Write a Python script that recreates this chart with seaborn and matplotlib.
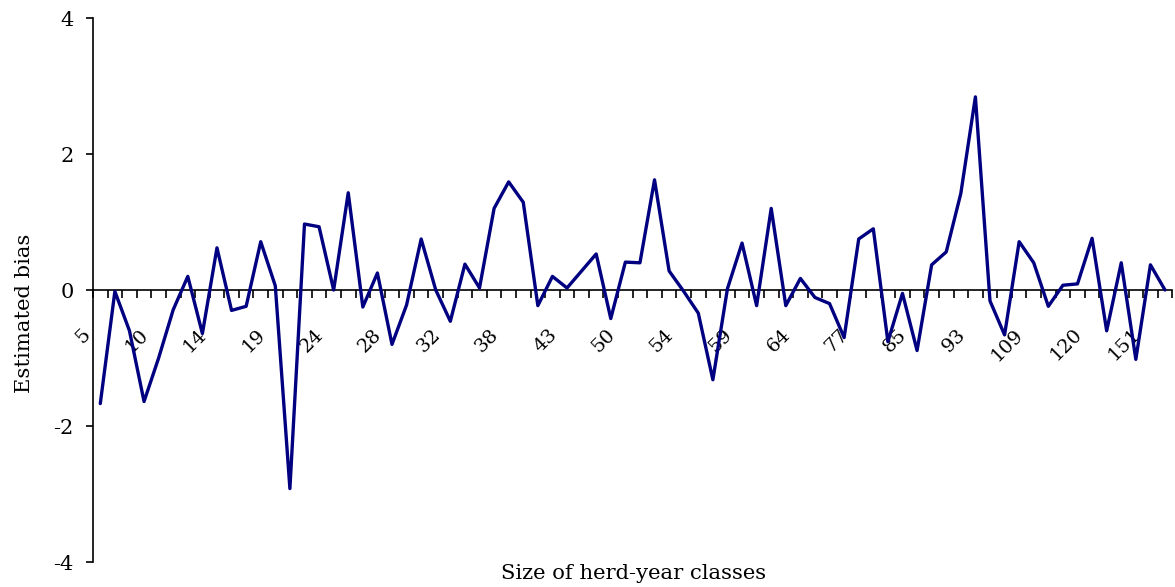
import numpy as np
import pandas as pd
import matplotlib
matplotlib.use("Agg")
import matplotlib.pyplot as plt
import matplotlib.transforms as mtransforms
from matplotlib.ticker import FixedLocator
import seaborn as sns

# ---- data ----
bias = [-1.67, -0.02, -0.60, -1.64, -1.00, -0.29, 0.20, -0.64, 0.62, -0.30,
        -0.24, 0.71, 0.06, -2.92, 0.97, 0.93, 0.00, 1.43, -0.25, 0.25,
        -0.80, -0.22, 0.75, 0.00, -0.46, 0.38, 0.03, 1.20, 1.59, 1.29,
        -0.23, 0.20, 0.03, 0.28, 0.53, -0.42, 0.41, 0.40, 1.62, 0.28,
        -0.02, -0.34, -1.32, 0.02, 0.69, -0.23, 1.20, -0.23, 0.17, -0.11,
        -0.20, -0.70, 0.75, 0.90, -0.76, -0.05, -0.89, 0.37, 0.56, 1.42,
        2.84, -0.16, -0.66, 0.71, 0.40, -0.24, 0.07, 0.09, 0.76, -0.60,
        0.40, -1.02, 0.37, 0.00]
class_labels = ["5", "10", "14", "19", "24", "28", "32", "38", "43", "50",
                "54", "59", "64", "77", "85", "93", "109", "120", "151"]
label_step = 4
y_ticks = [-4, -2, 0, 2, 4]
y_tick_labels = ["-4", "-2", "0", "2", "4"]

df = pd.DataFrame({"cls": np.arange(len(bias)), "bias": bias})

sns.set_style("white")
plt.rcParams["font.family"] = ["DejaVu Serif"]
plt.rcParams["axes.unicode_minus"] = False
for k in ["text.color", "axes.labelcolor", "xtick.color", "ytick.color", "axes.edgecolor"]:
    plt.rcParams[k] = "black"

fig = plt.figure(figsize=(11.75, 5.87), dpi=100)
W, H = 1175, 587
left, right, top, bottom = 93, 1172.3, 18, 562
ax = fig.add_axes([left / W, 1 - bottom / H, (right - left) / W, (bottom - top) / H])

sns.lineplot(data=df, x="cls", y="bias", ax=ax, color="#000080",
             linewidth=2.4, zorder=3, clip_on=False)

n = len(bias)
ax.set_xlim(-0.5, n - 0.5)
ax.set_ylim(-4, 4)

for s in ["top", "right"]:
    ax.spines[s].set_visible(False)
ax.spines["bottom"].set_position(("data", 0))
ax.spines["left"].set_linewidth(1.2)
ax.spines["bottom"].set_linewidth(1.2)

# y axis
ax.set_yticks(y_ticks)
ax.set_yticklabels(y_tick_labels)
ax.tick_params(axis="y", direction="out", length=5, width=1.2, pad=9,
               left=True, colors="black", labelsize=15)

# x axis: tick marks at category boundaries, labels every 4th category
ax.xaxis.set_minor_locator(FixedLocator(np.arange(-0.5, n, 1.0)))
label_pos = np.arange(0, n, label_step)[:len(class_labels)]
ax.set_xticks(label_pos)
ax.set_xticklabels(class_labels)
ax.tick_params(axis="x", which="minor", direction="out", length=6, width=1.2,
               bottom=True, colors="black")
ax.tick_params(axis="x", which="major", length=0, pad=30, bottom=True,
               labelsize=14, labelcolor="black")

offset = mtransforms.ScaledTranslation(-0.13, 0, fig.dpi_scale_trans)
for lab in ax.get_xticklabels():
    lab.set_rotation(45)
    lab.set_rotation_mode("anchor")
    lab.set_ha("right")
    lab.set_va("center")
    lab.set_fontsize(14)
    lab.set_transform(lab.get_transform() + offset)

ax.set_xlabel("Size of herd-year classes", fontsize=15.2)
ax.xaxis.set_label_coords(0.501, -0.004)
ax.set_ylabel("Estimated bias", fontsize=15.2)
ax.yaxis.set_label_coords(-0.055, 0.458)
ax.grid(False)

fig.savefig("out.png", dpi=100)
